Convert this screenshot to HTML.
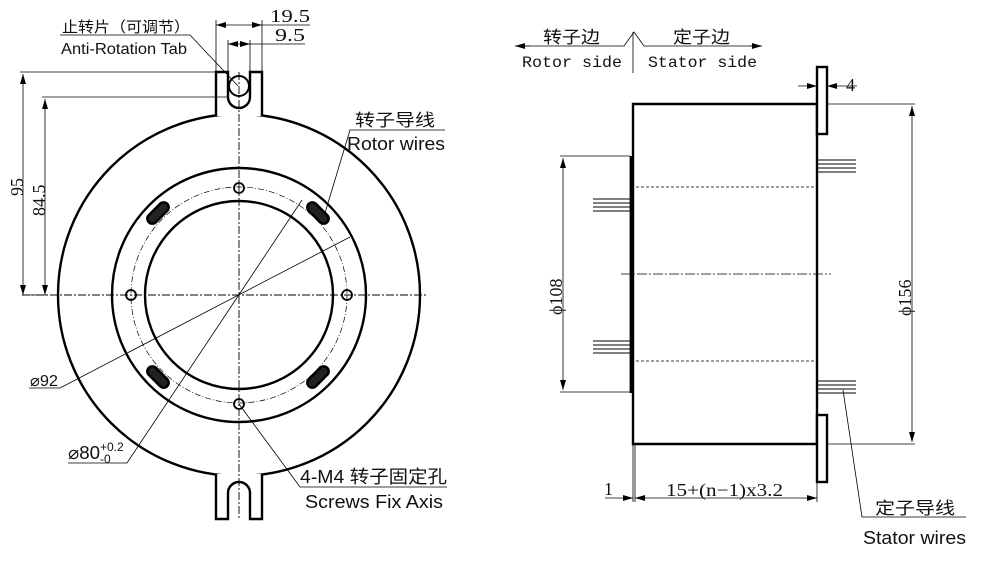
<!DOCTYPE html>
<html><head><meta charset="utf-8"><style>
html,body{margin:0;padding:0;background:#fff;}
svg{display:block;}
text{font-family:"Liberation Sans","Noto Sans CJK SC",sans-serif;fill:#111;}
.m{font-family:"Liberation Mono","Noto Sans CJK SC",monospace;}
.s{font-family:"Liberation Serif","Noto Serif CJK SC",serif;}
</style></head><body>
<svg width="984" height="563" viewBox="0 0 984 563" xmlns="http://www.w3.org/2000/svg">
<defs>
<marker id="a" viewBox="0 0 10 6" refX="10" refY="3" markerWidth="10" markerHeight="6" orient="auto-start-reverse" markerUnits="userSpaceOnUse"><path d="M0,0 L10,3 L0,6 z" fill="#000"/></marker>
</defs>
<g fill="none" stroke="#000">
<circle cx="239" cy="295" r="181" stroke-width="2.4"/>
<circle cx="239" cy="295" r="127" stroke-width="2.4"/>
<circle cx="239" cy="295" r="94" stroke-width="2.4"/>
<circle cx="239" cy="295" r="108" stroke-width="0.7" stroke-dasharray="6,2,1,2"/>
<circle cx="239" cy="188" r="5" stroke-width="1.8"/>
<circle cx="239" cy="404" r="5" stroke-width="1.8"/>
<circle cx="131" cy="295" r="5" stroke-width="1.8"/>
<circle cx="347" cy="295" r="5" stroke-width="1.8"/>
<g stroke-width="2.5">
<rect x="145" y="208" width="26" height="10" rx="5" transform="rotate(-45 158 213)" fill="#222"/>
<rect x="305" y="208" width="26" height="10" rx="5" transform="rotate(45 318 213)" fill="#222"/>
<rect x="145" y="372" width="26" height="10" rx="5" transform="rotate(45 158 377)" fill="#222"/>
<rect x="305" y="372" width="26" height="10" rx="5" transform="rotate(-45 318 377)" fill="#222"/>
</g>
<path d="M216,116 V72 H228 V97 A11,11 0 0 0 250,97 V72 H262 V116" stroke-width="2.4" fill="#fff"/>
<circle cx="239" cy="86" r="10" stroke-width="2"/>
<path d="M216,474 V519 H228 V493 A11,11 0 0 1 250,493 V519 H262 V474" stroke-width="2.4" fill="#fff"/>
<line x1="22" y1="295" x2="428" y2="295" stroke-width="0.9" stroke-dasharray="8,2,2,2"/>
<line x1="239" y1="72" x2="239" y2="520" stroke-width="0.9" stroke-dasharray="8,2,2,2"/>
<g stroke-width="0.8">
<line x1="20" y1="72" x2="216" y2="72"/>
<line x1="42" y1="97" x2="228" y2="97"/>
<line x1="22" y1="295" x2="48" y2="295"/>
<line x1="23" y1="74" x2="23" y2="295" marker-start="url(#a)" marker-end="url(#a)"/>
<line x1="45" y1="99" x2="45" y2="295" marker-start="url(#a)" marker-end="url(#a)"/>
<line x1="216" y1="20" x2="216" y2="72"/><line x1="262" y1="20" x2="262" y2="72"/>
<line x1="228" y1="40" x2="228" y2="72"/><line x1="250" y1="40" x2="250" y2="72"/>
<line x1="216" y1="25" x2="262" y2="25" marker-start="url(#a)" marker-end="url(#a)"/>
<line x1="262" y1="25" x2="310" y2="25"/>
<line x1="228" y1="44" x2="250" y2="44" marker-start="url(#a)" marker-end="url(#a)"/>
<line x1="250" y1="44" x2="305" y2="44"/>
<polyline points="60,35 190,35 238,86"/>
<polyline points="445,130 350,130 325,213" />
<polyline points="29,388 60,388 350,237"/>
<polyline points="68,463 127,463 302,200"/>
<polyline points="239,404 300,487 447,487"/>
</g>
<path d="M633,104 H817 V444 H633 Z" stroke-width="2.4"/>
<line x1="631" y1="156" x2="631" y2="393" stroke-width="2.8"/>
<rect x="817" y="67" width="10" height="67" stroke-width="2.4" fill="#fff"/>
<rect x="817" y="415" width="10" height="67" stroke-width="2.4" fill="#fff"/>
<g stroke-width="1.1">
<line x1="636" y1="187" x2="816" y2="187" stroke-dasharray="3,2" stroke-width="0.8"/>
<line x1="636" y1="361" x2="816" y2="361" stroke-dasharray="3,2" stroke-width="0.8"/>
<line x1="621" y1="274" x2="831" y2="274" stroke-dasharray="10,2,2,2" stroke-width="0.8"/>
<path d="M593,199 H630 M593,203 H630 M593,207 H630 M593,211 H630"/>
<path d="M593,341 H630 M593,345 H630 M593,349 H630 M593,353 H630"/>
<path d="M818,160 H856 M818,164 H856 M818,168 H856 M818,172 H856"/>
<path d="M818,381 H856 M818,385 H856 M818,389 H856 M818,393 H856"/>
</g>
<g stroke-width="0.8">
<line x1="560" y1="156" x2="630" y2="156"/><line x1="560" y1="392" x2="630" y2="392"/>
<line x1="563" y1="158" x2="563" y2="390" marker-start="url(#a)" marker-end="url(#a)"/>
<line x1="827" y1="104" x2="915" y2="104"/><line x1="827" y1="444" x2="915" y2="444"/>
<line x1="912" y1="106" x2="912" y2="442" marker-start="url(#a)" marker-end="url(#a)"/>
<line x1="798" y1="86" x2="817" y2="86" marker-end="url(#a)"/>
<line x1="857" y1="86" x2="827" y2="86" marker-end="url(#a)"/>
<line x1="633" y1="444" x2="633" y2="502"/><line x1="635" y1="444" x2="635" y2="502"/>
<line x1="817" y1="482" x2="817" y2="502"/>
<line x1="635" y1="498" x2="817" y2="498" marker-start="url(#a)" marker-end="url(#a)"/>
<line x1="605" y1="498" x2="633" y2="498" marker-end="url(#a)"/>
<polyline points="843,390 862,517 966,517"/>
<polyline points="515,46 624,46 634,32 644,46 762,46"/>
<line x1="515" y1="46" x2="530" y2="46" marker-start="url(#a)"/>
<line x1="750" y1="46" x2="762" y2="46" marker-end="url(#a)"/>
<line x1="633" y1="32" x2="633" y2="73"/>
</g>
</g>
<text x="62" y="32" font-size="15" textLength="128" lengthAdjust="spacingAndGlyphs">止转片（可调节）</text>
<text x="61" y="54" font-size="16" textLength="126" lengthAdjust="spacingAndGlyphs">Anti-Rotation Tab</text>
<text x="270" y="22" font-size="18" class="s" textLength="40" lengthAdjust="spacingAndGlyphs">19.5</text>
<text x="275" y="41" font-size="18" class="s" textLength="30" lengthAdjust="spacingAndGlyphs">9.5</text>
<text x="23" y="196" font-size="18" class="s" transform="rotate(-90 23 196)">95</text>
<text x="45" y="216" font-size="18" class="s" transform="rotate(-90 45 216)">84.5</text>
<text x="355" y="126" font-size="17" textLength="80" lengthAdjust="spacingAndGlyphs">转子导线</text>
<text x="347" y="150" font-size="18" textLength="98" lengthAdjust="spacingAndGlyphs">Rotor wires</text>
<text x="30" y="386" font-size="16" textLength="28" lengthAdjust="spacingAndGlyphs">⌀92</text>
<text x="68" y="459" font-size="18" textLength="32" lengthAdjust="spacingAndGlyphs">⌀80</text>
<text x="100" y="451" font-size="12">+0.2</text>
<text x="100" y="463" font-size="12">-0</text>
<text x="300" y="483" font-size="18" textLength="147" lengthAdjust="spacingAndGlyphs">4-M4 转子固定孔</text>
<text x="305" y="508" font-size="18" textLength="138" lengthAdjust="spacingAndGlyphs">Screws Fix Axis</text>
<text x="543" y="43" font-size="17" textLength="57" lengthAdjust="spacingAndGlyphs">转子边</text>
<text x="673" y="43" font-size="17" textLength="57" lengthAdjust="spacingAndGlyphs">定子边</text>
<text x="522" y="67" font-size="16" class="m" textLength="100" lengthAdjust="spacingAndGlyphs">Rotor side</text>
<text x="648" y="67" font-size="16" class="m" textLength="109" lengthAdjust="spacingAndGlyphs">Stator side</text>
<text x="846" y="91" font-size="18" class="s">4</text>
<text x="562" y="315" font-size="18" class="s" transform="rotate(-90 562 315)">ϕ108</text>
<text x="911" y="316" font-size="18" class="s" transform="rotate(-90 911 316)">ϕ156</text>
<text x="666" y="496" font-size="18" class="s" textLength="117" lengthAdjust="spacingAndGlyphs">15+(n−1)x3.2</text>
<text x="604" y="495" font-size="18" class="s">1</text>
<text x="875" y="514" font-size="17" textLength="80" lengthAdjust="spacingAndGlyphs">定子导线</text>
<text x="863" y="544" font-size="18" textLength="103" lengthAdjust="spacingAndGlyphs">Stator wires</text>
</svg>
</body></html>
